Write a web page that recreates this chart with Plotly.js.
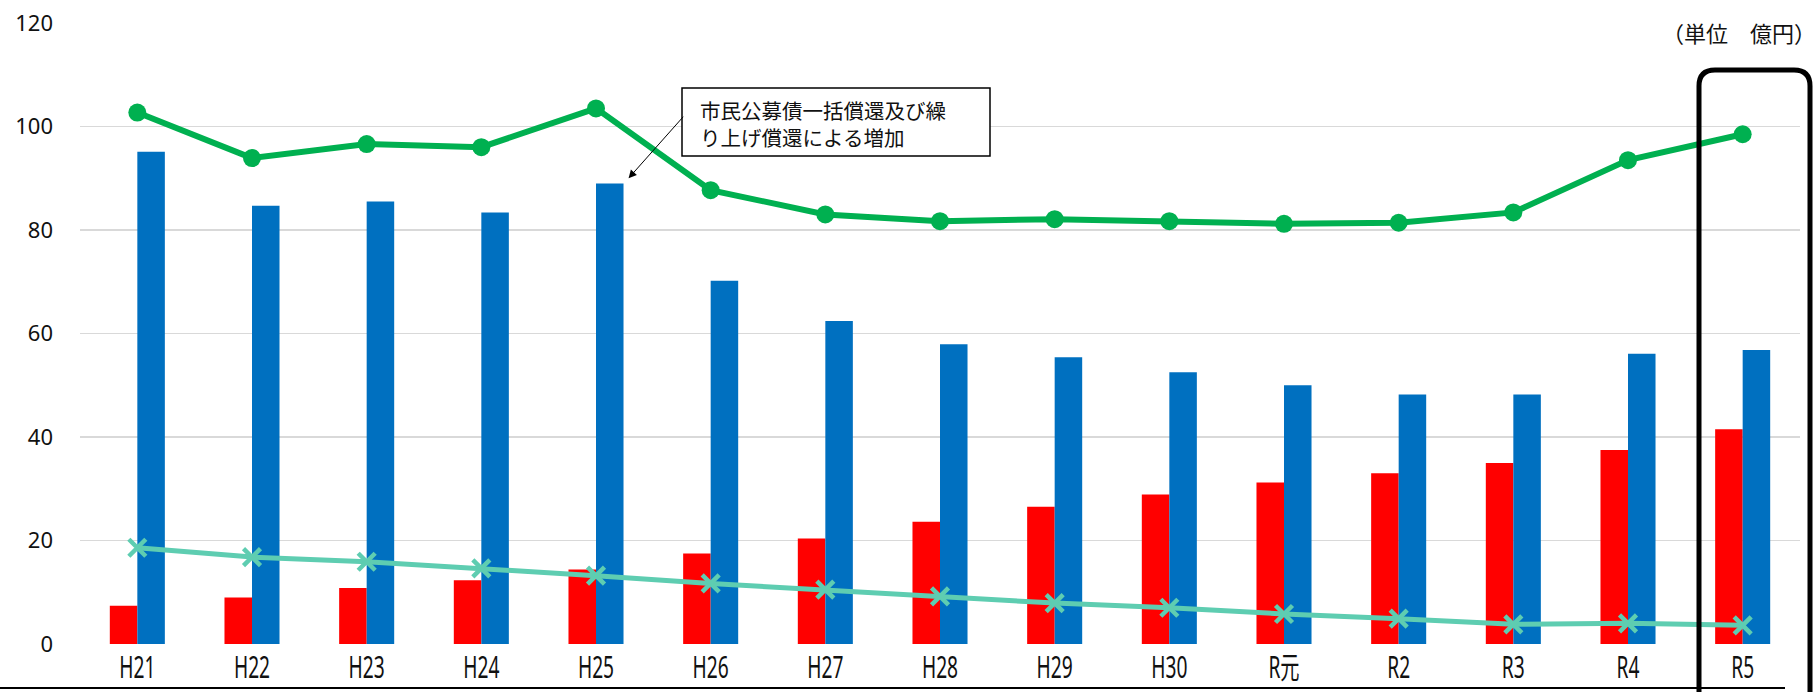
<!DOCTYPE html>
<html>
<head>
<meta charset="utf-8">
<script src="https://cdn.plot.ly/plotly-3.0.1.min.js"></script>
<style>
html,body{margin:0;padding:0;background:#fff;}
#chart{width:1819px;height:692px;}
#chart .xtick{transform-box:fill-box;transform-origin:center;transform:scaleX(0.64);}
</style>
</head>
<body>
<div id="chart"></div>
<script>
// Categories (fiscal years)
const categories = ['H21','H22','H23','H24','H25','H26','H27','H28','H29','H30','R元','R2','R3','R4','R5'];
// Red bars
const redValues = [7.4, 9.0, 10.8, 12.3, 14.4, 17.5, 20.4, 23.6, 26.5, 28.9, 31.2, 33.0, 35.0, 37.5, 41.5];
// Blue bars
const blueValues = [95.1, 84.7, 85.5, 83.4, 89.0, 70.2, 62.4, 57.9, 55.4, 52.5, 50.0, 48.2, 48.2, 56.1, 56.8];
// Green line (circle markers)
const greenValues = [102.7, 93.9, 96.6, 96.0, 103.5, 87.7, 83.0, 81.7, 82.1, 81.7, 81.2, 81.4, 83.4, 93.5, 98.5];
// Teal line (x markers)
const tealValues = [18.6, 16.8, 15.9, 14.6, 13.2, 11.7, 10.5, 9.2, 7.9, 7.0, 5.8, 4.9, 3.8, 4.0, 3.6];
// Y ticks
const yTickValues = [0, 20, 40, 60, 80, 100, 120];
const yTickLabels = ['0', '20', '40', '60', '80', '100', '120'];

const noteText = '市民公募債一括償還及び繰<br>り上げ償還による増加';
const unitText = '（単位　億円）';

const cjk = '"Noto Sans CJK JP", "Noto Sans", sans-serif';

const traces = [
  {type:'bar', x:categories, y:redValues, marker:{color:'#FF0000'}, hoverinfo:'y'},
  {type:'bar', x:categories, y:blueValues, marker:{color:'#0070C0'}, hoverinfo:'y'},
  {type:'scatter', mode:'lines+markers', x:categories, y:greenValues,
   line:{color:'#00B050', width:6}, marker:{symbol:'circle', size:18, color:'#00B050'}},
  {type:'scatter', mode:'lines+markers', x:categories, y:tealValues,
   line:{color:'#5ECDB1', width:5}, marker:{symbol:'x-thin', size:17, color:'#5ECDB1', line:{color:'#5ECDB1', width:4.5}}}
];

// paper coordinate helpers for decorations
const L = 80, R = 19, T = 23, B = 48, W = 1819, H = 692;
const pw = W - L - R, ph = H - T - B;
const px = v => (v - L) / pw;
const py = v => (H - B - v) / ph;

const fx0 = px(1699), fx1 = px(1810), fyt = py(70), fyb = py(720);
const rdx = 16 / pw, rdy = 16 / ph;
const framePath = `M ${fx0},${fyb} L ${fx0},${fyt - rdy} Q ${fx0},${fyt} ${fx0 + rdx},${fyt} L ${fx1 - rdx},${fyt} Q ${fx1},${fyt} ${fx1},${fyt - rdy} L ${fx1},${fyb}`;

const layout = {
  width: W, height: H,
  margin: {l: L, r: R, t: T, b: B, pad: 0},
  paper_bgcolor: '#fff', plot_bgcolor: '#fff',
  showlegend: false,
  barmode: 'group',
  bargap: 0.52,
  bargroupgap: 0,
  font: {family: cjk, color: '#111'},
  xaxis: {
    type: 'category',
    showgrid: false, zeroline: false, showline: false,
    ticks: '',
    tickfont: {family: '"Noto Sans", "Noto Sans CJK JP", sans-serif', size: 30, color: '#111'},
    ticklabelstandoff: 3,
    range: [-0.5, 14.5]
  },
  yaxis: {
    range: [0, 120],
    tickvals: yTickValues, ticktext: yTickLabels,
    showgrid: true, gridcolor: '#D9D9D9', gridwidth: 1.5,
    zeroline: false, showline: false, ticks: '',
    tickfont: {family: '"Noto Sans", sans-serif', size: 22, color: '#111'},
    ticklabelstandoff: 26
  },
  shapes: [
    {type:'line', xref:'paper', yref:'paper', x0:px(0), x1:px(1785), y0:py(688), y1:py(688),
     line:{color:'#000', width:2}},
    {type:'path', xref:'paper', yref:'paper', path: framePath, line:{color:'#000', width:5}},
    {type:'rect', xref:'paper', yref:'paper', x0:px(682), x1:px(990), y0:py(156), y1:py(88),
     fillcolor:'#fff', line:{color:'#000', width:1.5}, layer:'above'}
  ],
  annotations: [
    {xref:'paper', yref:'paper', x:px(698), y:py(124), xanchor:'left', yanchor:'middle',
     text: noteText, showarrow:false, align:'left',
     font:{family: cjk, size: 20.5, color:'#111'}},
    {xref:'x', yref:'y', x:4.284, y:90.0, text:'', showarrow:true,
     ax:56, ay:-63, axref:'pixel', ayref:'pixel',
     arrowhead:2, arrowsize:1.6, arrowwidth:1, arrowcolor:'#000', standoff:0},
    {xref:'paper', yref:'paper', x:px(1818), y:py(32), xanchor:'right', yanchor:'middle',
     text: unitText, showarrow:false, bgcolor:'#fff',
     font:{family: cjk, size: 22, color:'#111'}}
  ]
};

Plotly.newPlot('chart', traces, layout, {displayModeBar:false, staticPlot:true});
</script>
</body>
</html>
